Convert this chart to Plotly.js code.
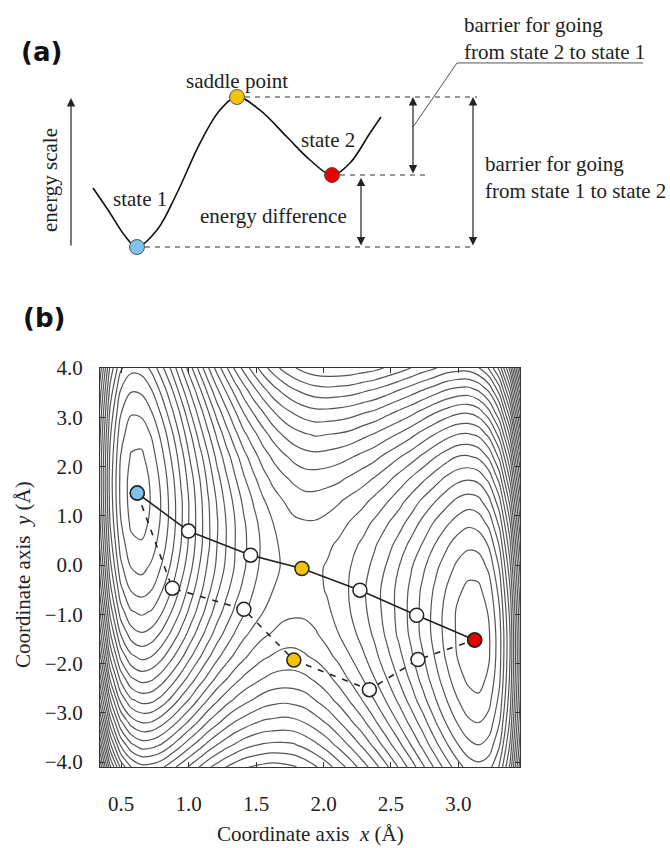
<!DOCTYPE html>
<html><head><meta charset="utf-8">
<script src="https://cdn.plot.ly/plotly-3.0.1.min.js"></script>
<style>html,body{margin:0;padding:0;background:#fff;} #chart{width:670px;height:848px;}</style>
</head><body><div id="chart"></div>
<script>
// ---- panel (a): schematic energy profile ----
const curveQ = [-0.44,-0.27,-0.12,0.00,0.20,0.40,0.63,0.83,1.00,1.23,1.50,1.73,1.95,2.13,2.33,2.44];
const curveE = [3.93,2.27,0.73,0.00,1.13,3.60,6.93,9.13,10.0,9.13,7.33,5.80,4.80,5.60,7.60,8.67];
const stateNames = ['state 1','saddle point','state 2'];
const stateQ = [0.00, 1.00, 1.95];
const stateE = [0.00, 10.0, 4.80];
const stateColors = ['#7cc4ec','#f2c300','#e60000'];
const guideEnd = [3.36, 3.40, 2.88];

// ---- panel (b): band paths ----
const solidX = [0.62,1.00,1.46,1.84,2.27,2.69,3.12];
const solidY = [1.46,0.69,0.20,-0.07,-0.51,-1.02,-1.52];
const dashedX = [0.62,0.88,1.41,1.78,2.34,2.70,3.12];
const dashedY = [1.46,-0.47,-0.90,-1.93,-2.53,-1.92,-1.52];
const pathColors = ['#7cc4ec','#ffffff','#ffffff','#f2c300','#ffffff','#ffffff','#e60000'];
const xTicks = [0.5,1.0,1.5,2.0,2.5,3.0];
const yTicks = [-4,-3,-2,-1,0,1,2,3,4];

// ---- panel (b): potential energy surface, estimated in contour-level units ----
const gridX = [0.340,0.418,0.496,0.574,0.652,0.728,0.801,0.873,0.943,1.011,1.079,1.145,1.211,1.278,
  1.345,1.413,1.483,1.554,1.627,1.703,1.780,1.860,1.942,2.027,2.113,2.200,2.289,2.379,
  2.468,2.558,2.647,2.735,2.821,2.906,2.989,3.070,3.148,3.226,3.304,3.382,3.460];
const gridY = [-4.10,-3.65,-3.20,-2.75,-2.30,-1.85,-1.40,-0.95,-0.50,-0.05,0.40,0.85,1.30,1.75,2.20,2.65,3.10,3.55,4.00];
const energy = [
 [29.2,23.3,19.8,18.0,17.3,17.4,17.8,18.6,19.4,20.2,21.0,21.8,22.4,23.0, 23.5,23.9,24.1,24.3,24.4,24.3,24.1,23.7,23.1,22.4,21.5,20.6,19.5,18.4, 17.2,15.9,14.6,13.2,11.9,10.6,9.5,8.6,8.3,8.6,10.1,13.2,18.8],
 [26.2,20.3,16.9,15.2,14.5,14.6,15.1,15.9,16.8,17.7,18.5,19.3,20.0,20.6, 21.1,21.6,21.9,22.1,22.2,22.2,22.1,21.7,21.2,20.5,19.7,18.8,17.8,16.7, 15.5,14.3,13.0,11.7,10.4,9.2,8.1,7.3,7.0,7.4,8.9,12.1,17.7],
 [23.5,17.6,14.3,12.6,12.0,12.1,12.7,13.5,14.4,15.3,16.2,17.1,17.8,18.5, 19.1,19.5,19.9,20.2,20.3,20.4,20.3,20.0,19.5,18.9,18.1,17.2,16.3,15.2, 14.1,12.9,11.7,10.5,9.2,8.0,7.0,6.2,6.0,6.4,8.0,11.2,16.9],
 [20.9,15.2,11.8,10.2,9.7,9.8,10.4,11.3,12.3,13.2,14.2,15.1,15.9,16.6, 17.2,17.7,18.1,18.5,18.7,18.8,18.7,18.5,18.0,17.4,16.7,15.9,15.0,14.0, 12.9,11.8,10.6,9.4,8.2,7.1,6.1,5.4,5.2,5.7,7.3,10.6,16.3],
 [18.7,12.9,9.7,8.1,7.6,7.8,8.5,9.4,10.4,11.4,12.4,13.3,14.2,14.9, 15.6,16.2,16.6,17.0,17.3,17.4,17.4,17.2,16.8,16.3,15.6,14.8,14.0,13.0, 12.0,10.9,9.8,8.6,7.5,6.4,5.4,4.8,4.6,5.2,6.8,10.2,15.9],
 [16.6,10.9,7.7,6.2,5.7,6.0,6.7,7.7,8.7,9.8,10.8,11.8,12.7,13.5, 14.2,14.8,15.4,15.8,16.1,16.3,16.3,16.1,15.8,15.3,14.7,14.0,13.2,12.3, 11.3,10.3,9.2,8.1,7.0,5.9,5.0,4.4,4.3,4.9,6.6,10.0,15.8],
 [14.8,9.2,6.0,4.5,4.1,4.4,5.2,6.2,7.3,8.4,9.5,10.5,11.5,12.3, 13.1,13.8,14.3,14.8,15.1,15.4,15.5,15.4,15.1,14.6,14.0,13.4,12.6,11.8, 10.8,9.8,8.8,7.7,6.7,5.7,4.9,4.3,4.2,4.9,6.6,10.0,15.9],
 [13.3,7.7,4.5,3.1,2.8,3.1,3.9,5.0,6.1,7.3,8.4,9.5,10.5,11.4, 12.2,12.9,13.5,14.0,14.4,14.7,14.8,14.8,14.6,14.2,13.6,13.0,12.3,11.5, 10.6,9.7,8.7,7.7,6.7,5.7,4.9,4.4,4.4,5.1,6.9,10.3,16.2],
 [11.9,6.4,3.3,1.9,1.6,2.0,2.9,4.0,5.2,6.4,7.6,8.7,9.8,10.7, 11.6,12.3,13.0,13.5,14.0,14.3,14.5,14.5,14.3,13.9,13.5,12.9,12.2,11.4, 10.6,9.7,8.8,7.8,6.9,6.0,5.2,4.8,4.8,5.5,7.4,10.9,16.8],
 [10.9,5.4,2.3,1.0,0.7,1.2,2.1,3.2,4.5,5.7,7.0,8.2,9.2,10.2, 11.1,11.9,12.7,13.3,13.8,14.1,14.4,14.4,14.2,13.9,13.5,13.0,12.4,11.7, 10.9,10.0,9.1,8.2,7.3,6.5,5.8,5.3,5.4,6.2,8.1,11.7,17.6],
 [10.0,4.6,1.6,0.3,0.1,0.6,1.5,2.7,4.0,5.3,6.6,7.8,9.0,10.0, 11.0,11.8,12.6,13.2,13.8,14.2,14.5,14.6,14.5,14.2,13.8,13.3,12.8,12.1, 11.4,10.6,9.7,8.9,8.0,7.2,6.5,6.2,6.3,7.1,9.1,12.7,18.7],
 [9.4,4.0,1.1,-0.2,-0.3,0.2,1.2,2.4,3.8,5.2,6.5,7.8,8.9,10.0, 11.0,11.9,12.7,13.4,14.0,14.5,14.8,14.9,14.9,14.7,14.4,13.9,13.4,12.8, 12.1,11.4,10.6,9.7,8.9,8.2,7.6,7.2,7.4,8.3,10.3,13.9,20.0],
 [9.0,3.7,0.8,-0.4,-0.5,0.1,1.1,2.4,3.8,5.2,6.6,7.9,9.1,10.3, 11.3,12.3,13.1,13.9,14.5,15.0,15.4,15.6,15.6,15.4,15.1,14.7,14.3,13.7, 13.1,12.4,11.6,10.8,10.1,9.4,8.8,8.5,8.7,9.7,11.7,15.4,21.5],
 [8.9,3.6,0.8,-0.4,-0.5,0.2,1.3,2.6,4.1,5.5,6.9,8.3,9.6,10.8, 11.9,12.9,13.8,14.6,15.3,15.8,16.2,16.5,16.5,16.4,16.2,15.8,15.4,14.9, 14.3,13.6,12.9,12.2,11.5,10.8,10.3,10.1,10.3,11.3,13.4,17.2,23.3],
 [9.0,3.8,1.0,-0.1,-0.2,0.6,1.7,3.1,4.5,6.1,7.5,8.9,10.3,11.5, 12.6,13.7,14.6,15.5,16.2,16.8,17.3,17.6,17.7,17.6,17.4,17.1,16.7,16.3, 15.7,15.1,14.5,13.8,13.1,12.5,12.0,11.9,12.2,13.2,15.3,19.1,25.3],
 [9.4,4.2,1.4,0.4,0.4,1.1,2.3,3.7,5.3,6.8,8.4,9.8,11.2,12.5, 13.7,14.8,15.7,16.6,17.4,18.1,18.6,18.9,19.1,19.0,18.9,18.7,18.3,17.9, 17.4,16.9,16.3,15.6,15.0,14.4,14.0,13.9,14.2,15.3,17.5,21.3,27.6],
 [10.0,4.8,2.1,1.1,1.2,2.0,3.2,4.7,6.2,7.9,9.4,10.9,12.4,13.7, 14.9,16.1,17.1,18.0,18.9,19.6,20.1,20.5,20.7,20.7,20.6,20.4,20.1,19.8, 19.3,18.8,18.3,17.7,17.1,16.6,16.2,16.1,16.5,17.7,19.9,23.8,30.1],
 [10.8,5.7,3.0,2.1,2.2,3.0,4.3,5.8,7.5,9.1,10.7,12.3,13.8,15.1, 16.4,17.6,18.7,19.7,20.6,21.3,21.9,22.3,22.6,22.7,22.6,22.5,22.2,21.9, 21.5,21.0,20.5,20.0,19.5,19.0,18.7,18.6,19.1,20.2,22.5,26.5,32.8],
 [11.9,6.8,4.2,3.3,3.4,4.3,5.7,7.2,8.9,10.6,12.3,13.9,15.4,16.8, 18.2,19.4,20.5,21.6,22.5,23.3,23.9,24.4,24.7,24.8,24.8,24.7,24.5,24.3, 23.9,23.5,23.0,22.5,22.1,21.6,21.4,21.4,21.9,23.1,25.4,29.4,35.8]
];

const serif = 'Liberation Serif';
const traces = [
 {type:'contour', x:gridX, y:gridY, z:energy, xaxis:'x', yaxis:'y', showscale:false,
  contours:{coloring:'none', start:0, end:40, size:1},
  line:{color:'#555', width:1.2, smoothing:1}, hoverinfo:'skip'},
 {type:'scatter', mode:'lines', x:dashedX, y:dashedY, xaxis:'x', yaxis:'y',
  line:{color:'#222', width:1.6, dash:'6px,7px'}},
 {type:'scatter', mode:'lines', x:solidX, y:solidY, xaxis:'x', yaxis:'y',
  line:{color:'#222', width:1.6}},
 {type:'scatter', mode:'markers', x:dashedX.concat(solidX), y:dashedY.concat(solidY), xaxis:'x', yaxis:'y',
  marker:{size:14, color:pathColors.concat(pathColors), line:{color:'#222', width:1.5}}},
 {type:'scatter', mode:'lines', x:curveQ, y:curveE, xaxis:'x2', yaxis:'y2',
  line:{color:'#111', width:1.6, shape:'spline', smoothing:1}},
 {type:'scatter', mode:'lines', xaxis:'x2', yaxis:'y2',
  x:[stateQ[0]+0.08,guideEnd[0],null,stateQ[1]+0.08,guideEnd[1],null,stateQ[2]+0.08,guideEnd[2]],
  y:[stateE[0],stateE[0],null,stateE[1],stateE[1],null,stateE[2],stateE[2]],
  line:{color:'#777', width:1.3, dash:'5px,5px'}},
 {type:'scatter', mode:'lines', xaxis:'x2', yaxis:'y2',
  x:[2.76,3.20,5.06], y:[8.0,12.27,12.27], line:{color:'#555', width:1}},
 {type:'scatter', mode:'markers', x:stateQ, y:stateE, xaxis:'x2', yaxis:'y2',
  marker:{size:15, color:stateColors, line:{color:'#555', width:1}}}
];
function arrow(x,y0,y1,both){return {xref:'x2',yref:'y2',axref:'x2',ayref:'y2',x:x,y:y1,ax:x,ay:y0,text:'',showarrow:true,
 arrowhead:2,arrowsize:1.4,arrowwidth:1.2,arrowcolor:'#222',arrowside:both?'end+start':'end'};}
function txt(px,py,t,o){return Object.assign({xref:'paper',yref:'paper',x:px/670,y:1-py/848,text:t,showarrow:false,
 xanchor:'center',yanchor:'middle',font:{family:serif,size:21,color:'#222'}},o||{});}
const ann = [
 txt(41,52,'<b>(a)</b>',{font:{family:'DejaVu Sans',size:26,color:'#111'}}),
 txt(44,318,'<b>(b)</b>',{font:{family:'DejaVu Sans',size:26,color:'#111'}}),
 txt(50,180,'energy scale',{textangle:-90}),
 {xref:'x2',yref:'y2',x:stateQ[1],y:stateE[1],yshift:16,text:stateNames[1],showarrow:false,font:{family:serif,size:21,color:'#222'}},
 {xref:'x2',yref:'y2',x:0.03,y:3.2,text:stateNames[0],showarrow:false,font:{family:serif,size:21,color:'#222'}},
 {xref:'x2',yref:'y2',x:1.91,y:7.13,text:stateNames[2],showarrow:false,font:{family:serif,size:21,color:'#222'}},
 {xref:'x2',yref:'y2',x:1.36,y:2.07,text:'energy difference',showarrow:false,font:{family:serif,size:21,color:'#222'}},
 txt(462,38.5,'barrier for going<br>from state 2 to state 1',{xanchor:'left',align:'left'}),
 txt(483,177.5,'barrier for going<br>from state 1 to state 2',{xanchor:'left',align:'left'}),
 arrow(-0.66,0,9.93,false),
 arrow(2.24,0,4.62,true),
 arrow(2.76,4.8,10,true),
 arrow(3.36,0,10,true),
 txt(310,834,'Coordinate axis\u00a0\u00a0<i>x</i>\u00a0(Å)',{font:{family:serif,size:21,color:'#222'}}),
 txt(23,575,'Coordinate axis\u00a0\u00a0<i>y</i>\u00a0(Å)',{textangle:-90,font:{family:serif,size:21,color:'#222'}})
];
const axCommon = {showgrid:false, zeroline:false, showline:true, linecolor:'#333', linewidth:1, mirror:'ticks',
 ticks:'inside', ticklen:5, tickcolor:'#333', tickformat:'.1f', tickfont:{family:serif,size:21,color:'#222'}};
const layout = {width:670,height:848,margin:{l:0,r:0,t:0,b:0},paper_bgcolor:'#fff',plot_bgcolor:'#fff',showlegend:false,
 xaxis:Object.assign({},axCommon,{domain:[100/670,520/670],range:[0.344,3.456],tickvals:xTicks,anchor:'y',ticklabelstandoff:18}),
 yaxis:Object.assign({},axCommon,{domain:[1-767/848,1-368/848],range:[-4.1,4.0],tickvals:yTicks,anchor:'x',ticklabelstandoff:12}),
 xaxis2:{domain:[0,1],range:[-1.37,5.33],visible:false,anchor:'y2'},
 yaxis2:{domain:[1-280/848,1],range:[-2.2,16.467],visible:false,anchor:'x2'},
 annotations:ann};
Plotly.newPlot('chart',traces,layout,{staticPlot:true});
</script></body></html>
